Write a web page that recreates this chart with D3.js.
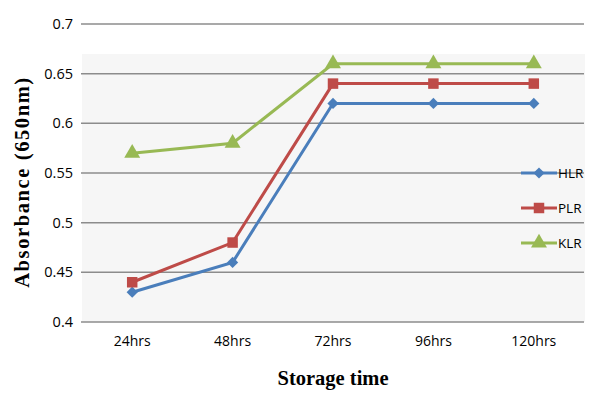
<!DOCTYPE html>
<html>
<head>
<meta charset="utf-8">
<script src="https://cdn.jsdelivr.net/npm/d3@7"></script>
<style>
  body { margin: 0; background: #fff; }
</style>
</head>
<body>
<div id="chart"></div>
<script>
// Chart data
const categories = ["24hrs", "48hrs", "72hrs", "96hrs", "120hrs"];
const seriesNames = ["HLR", "PLR", "KLR"];
const hlr = [0.43, 0.46, 0.62, 0.62, 0.62];
const plr = [0.44, 0.48, 0.64, 0.64, 0.64];
const klr = [0.57, 0.58, 0.66, 0.66, 0.66];
const yTicks = [0.4, 0.45, 0.5, 0.55, 0.6, 0.65, 0.7];

const colors = ["#4a7ebb", "#be4b48", "#98b954"];
const shapes = [d3.symbolDiamond2, d3.symbolSquare, d3.symbolTriangle];
const sizes = [80, 110, 110];

const width = 600, height = 397;
const margin = { top: 24, right: 16, bottom: 75, left: 82 };
const sans = "'Open Sans', 'Liberation Sans', sans-serif";
const serif = "'Liberation Serif', 'Times New Roman', serif";

const svg = d3.select("#chart")
    .append("svg")
    .attr("width", width)
    .attr("height", height);

// Scales
const xScale = d3.scaleBand()
    .domain(categories)
    .range([margin.left, width - margin.right]);

const yScale = d3.scaleLinear()
    .domain([0.4, 0.7])
    .range([height - margin.bottom, margin.top]);

// plot area background (grey panel)
svg.append("rect")
    .attr("x", margin.left)
    .attr("y", 54)
    .attr("width", width - margin.right - margin.left + 1)
    .attr("height", yScale(0.4) - 54)
    .attr("fill", "#f6f6f6");

// Gridlines
svg.selectAll(".grid")
    .data(yTicks)
    .enter()
    .append("line")
    .attr("class", "grid")
    .attr("x1", margin.left - 1)
    .attr("x2", width - margin.right)
    .attr("y1", d => yScale(d))
    .attr("y2", d => yScale(d))
    .attr("stroke", "#8c8c8c")
    .attr("stroke-width", 1.5);

// Y axis labels
const yAxis = svg.append("g")
    .attr("transform", "translate(" + (margin.left - 1) + ",0)")
    .call(d3.axisLeft(yScale).tickValues(yTicks).tickSize(0).tickPadding(8).tickFormat(d => +d.toFixed(2)));
yAxis.select(".domain").remove();
yAxis.selectAll("text").attr("font-size", 14.5).attr("fill", "#000")
    .attr("font-family", sans);

// X axis labels
const xAxis = svg.append("g")
    .attr("transform", "translate(0," + yScale(0.4) + ")")
    .call(d3.axisBottom(xScale).tickSize(0).tickPadding(14));
xAxis.select(".domain").remove();
xAxis.selectAll("text").attr("font-size", 14).attr("fill", "#000")
    .attr("font-family", sans);

// Lines
const allSeries = [hlr, plr, klr];
const line = d3.line()
    .x((d, i) => xScale(categories[i]) + xScale.bandwidth() / 2)
    .y(d => yScale(d));

allSeries.forEach((s, k) => {
    svg.append("path")
        .datum(s)
        .attr("d", line)
        .attr("fill", "none")
        .attr("stroke", colors[k])
        .attr("stroke-width", 3);

    svg.selectAll(".pt" + k)
        .data(s)
        .enter()
        .append("path")
        .attr("class", "pt" + k)
        .attr("d", d3.symbol().type(shapes[k]).size(sizes[k]))
        .attr("transform", (d, i) => "translate(" + (xScale(categories[i]) + xScale.bandwidth() / 2) + "," + yScale(d) + ")")
        .attr("fill", colors[k]);
});

// Legend
const legend = svg.append("g").attr("transform", "translate(521,173)");
seriesNames.forEach((name, k) => {
    const g = legend.append("g").attr("transform", "translate(0," + (k * 35) + ")");
    g.append("line")
        .attr("x1", 0).attr("x2", 36)
        .attr("stroke", colors[k]).attr("stroke-width", 3);
    g.append("path")
        .attr("d", d3.symbol().type(shapes[k]).size(sizes[k]))
        .attr("transform", "translate(18,0)")
        .attr("fill", colors[k]);
    g.append("text")
        .attr("x", 37).attr("y", 5)
        .attr("font-size", 13.5)
        .attr("font-family", sans)
        .text(name);
});

// Axis titles
svg.append("text")
    .attr("transform", "translate(29,182) rotate(-90)")
    .attr("text-anchor", "middle")
    .attr("font-family", serif)
    .attr("font-weight", "bold")
    .attr("font-size", 20.5)
    .attr("letter-spacing", 1.6)
    .text("Absorbance (650nm)");

svg.append("text")
    .attr("x", 333)
    .attr("y", 385)
    .attr("text-anchor", "middle")
    .attr("font-family", serif)
    .attr("font-weight", "bold")
    .attr("font-size", 20.5)
    .text("Storage time");
</script>
</body>
</html>
